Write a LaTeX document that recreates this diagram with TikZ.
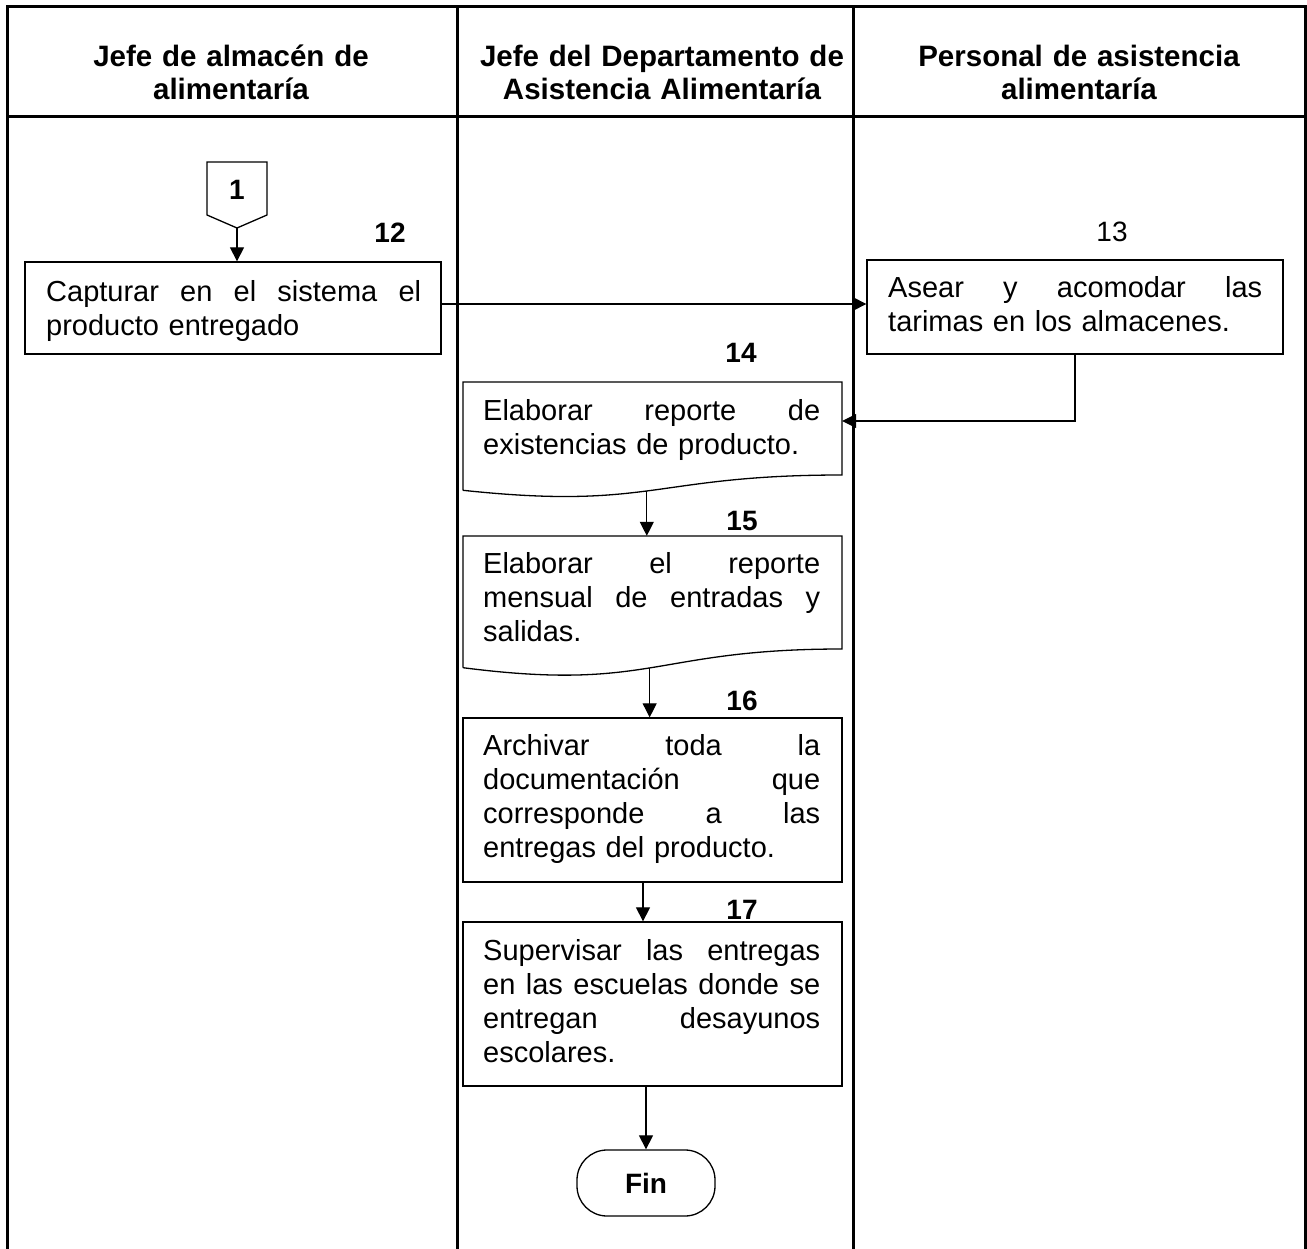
\documentclass[tikz,border=0pt]{standalone}
\usepackage{fontspec}
\setmainfont{Liberation Sans}
\usetikzlibrary{arrows.meta}
\newcommand{\jl}[2]{\leavevmode\hbox to #1{#2}}
\begin{document}
\begin{tikzpicture}[x=1pt,y=-1pt,
  frame/.style={line width=3pt, line join=miter},
  boxline/.style={line width=1.3pt, line join=miter},
  procbox/.style={draw, line width=1.3pt, inner sep=0pt},
  docbase/.style={inner sep=0pt},
  bodytext/.style={inner sep=0pt, align=left, anchor=base west, font=\fontsize{29}{34}\selectfont},
  headtext/.style={inner sep=0pt, align=center, text width=440pt, anchor=base, font=\bfseries\fontsize{29.5}{33}\selectfont},
  numbold/.style={inner sep=0pt, font=\bfseries\fontsize{28}{34}\selectfont},
  numreg/.style={inner sep=0pt, font=\fontsize{28}{34}\selectfont},
  conn/.style={line width=1.2pt, -{Triangle[length=14pt,width=14pt]}},
  terminal/.style={draw, line width=1.3pt, rounded corners=30pt, minimum width=138pt, minimum height=66pt, inner sep=0pt, font=\bfseries\fontsize{28}{34}\selectfont}
]
\useasboundingbox (0,0) rectangle (1307,1249);

% swimlane frame
\draw[frame] (7,1249) -- (7,7) -- (1305,7) -- (1305,1249);
\draw[frame] (7,117) -- (1305,117);
\draw[frame] (457,7) -- (457,1249);
\draw[frame] (853,7) -- (853,1249);

% headers
\node[headtext] (h1) at (231,67) {Jefe de almacén de\\alimentaría};
\node[headtext] (h2) at (662,67) {Jefe del Departamento de\\Asistencia Alimentaría};
\node[headtext] (h3) at (1079,67) {Personal de asistencia\\alimentaría};

% off-page connector 1
\draw[boxline] (207,162) -- (267,162) -- (267,215) -- (237,228) -- (207,215) -- cycle;
\node[numbold] (c1) at (237,190) {1};
\coordinate (c1tip) at (237,228);

% step 12
\node[procbox, minimum width=416pt, minimum height=92pt] (b12) at (233,308) {};
\node[bodytext, text width=375pt] (t12) at (46,302) {\jl{375pt}{Capturar\hfill en\hfill el\hfill sistema\hfill el}\\producto entregado};
\node[numbold] (n12) at (390,233) {12};

% step 13
\node[procbox, minimum width=416pt, minimum height=94pt] (b13) at (1075,307) {};
\node[bodytext, text width=374pt] (t13) at (888,298) {\jl{374pt}{Asear\hfill y\hfill acomodar\hfill las}\\tarimas en los almacenes.};
\node[numreg] (n13) at (1112,232) {13};

% step 14 (document)
\node[docbase, minimum width=379pt, minimum height=93pt] (b14) at (652.5,428.5) {};
\draw[boxline] (463,490.3) -- (463,382) -- (842,382) -- (842,475)
  .. controls (652.5,475) and (652.5,510.5) .. coordinate[pos=0.52] (d14) (463,490.3);
\node[bodytext, text width=337pt] (t14) at (483,420) {\jl{337pt}{Elaborar\hfill reporte\hfill de}\\existencias de producto.};
\node[numbold] (n14) at (741,353) {14};

% step 15 (document)
\node[docbase, minimum width=379pt, minimum height=113pt] (b15) at (652.5,592.5) {};
\draw[boxline] (463,667.7) -- (463,536) -- (842,536) -- (842,649)
  .. controls (652.5,649) and (652.5,692) .. coordinate[pos=0.51] (d15) (463,667.7);
\node[bodytext, text width=337pt] (t15) at (483,573) {\jl{337pt}{Elaborar\hfill el\hfill reporte}\\\jl{337pt}{mensual\hfill de\hfill entradas\hfill y}\\salidas.};
\node[numbold] (n15) at (742,521) {15};

% step 16
\node[procbox, minimum width=379pt, minimum height=164pt] (b16) at (652.5,800) {};
\node[bodytext, text width=337pt] (t16) at (483,755) {\jl{337pt}{Archivar\hfill toda\hfill la}\\\jl{337pt}{documentación\hfill que}\\\jl{337pt}{corresponde\hfill a\hfill las}\\entregas del producto.};
\node[numbold] (n16) at (742,701) {16};

% step 17
\node[procbox, minimum width=379pt, minimum height=164pt] (b17) at (652.5,1004) {};
\node[bodytext, text width=337pt] (t17) at (483,960) {\jl{337pt}{Supervisar\hfill las\hfill entregas}\\\jl{337pt}{en\hfill las\hfill escuelas\hfill donde\hfill se}\\\jl{337pt}{entregan\hfill desayunos}\\escolares.};
\node[numbold] (n17) at (742,910) {17};

% end
\node[terminal] (fin) at (646,1183) {Fin};

% connectors
\draw[conn] (c1tip) -- (c1tip |- b12.north);
\draw[conn] ([yshift=4pt]b12.east) -- ([yshift=4pt]b12.east -| b13.west);
\draw[conn] (b13.south) |- ([yshift=7.5pt]b14.east);
\draw[conn] (d14) -- (d14 |- b15.north);
\draw[conn] (d15) -- (d15 |- b16.north);
\draw[conn] ([xshift=-9.5pt]b16.south) -- ([xshift=-9.5pt]b17.north);
\draw[conn] (fin.north |- b17.south) -- (fin.north);
\end{tikzpicture}
\end{document}
